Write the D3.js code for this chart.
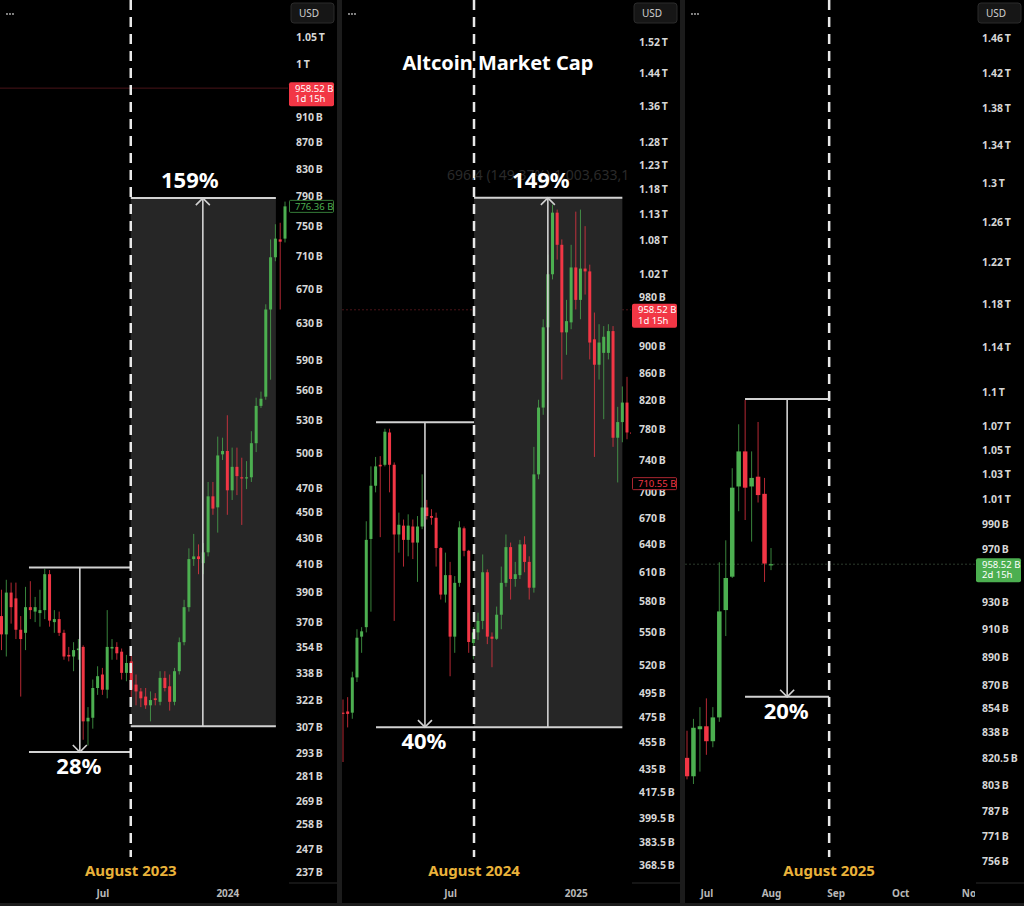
<!DOCTYPE html>
<html><head><meta charset="utf-8">
<script src="https://cdn.jsdelivr.net/npm/d3@7"></script>
<style>
html,body{margin:0;padding:0;background:#000;}
svg{display:block;}
text{font-family:"Noto Sans","Open Sans",sans-serif;}
</style></head><body>
<svg id="chart" width="1024" height="906"></svg>
<script>
// ---------------- DATA (values in billions USD) ----------------
// weekly candles [open, high, low, close]
const candles2023 = [
 [374,392,352,362],[362,399,348,390],[390,397,369,380],[386,397,359,365],[365,374,324,359],
 [363,394,352,380],[380,398,372,378],[377,387,370,380],[376,392,367,378],[378,407,372,403],
 [403,406,367,371],[370,378,363,372],[372,377,361,363],[363,365,346,348],[349,354,345,348],
 [348,357,339,352],[352,359,346,353],[354,355,300,310],[310,318,297,312],[312,334,306,329],
 [329,342,325,336],[337,341,325,328],[328,378,323,354],[353,359,346,354],[354,357,346,350],
 [351,353,334,338],[338,349,333,344],[345,349,322,328],[331,337,319,327],[327,329,318,323],
 [324,329,317,319],[319,327,310,322],[323,326,319,322],[321,339,319,335],[335,339,327,329],
 [330,337,316,321],[321,341,319,339],[339,360,337,357],[357,385,355,380],[380,422,377,414],
 [414,433,409,416],[416,425,403,414],[411,426,403,419],[419,475,416,463],[463,475,448,453],
 [454,515,434,498],[499,514,494,502],[502,535,448,468],[468,505,460,488],[488,505,464,480],
 [479,496,440,478],[478,493,469,479],[479,520,475,509],[509,552,501,544],[544,558,542,551],
 [553,652,550,646],[646,732,570,709],[709,752,704,733],[732,754,646,729],[733,783,728,776.36]
];
const candles2024 = [
 [479,490,440,478.5],[480,492,467,478],[479,514,474,509],[509,553,505,545],[546,555,531,551],
 [555,666,550,645],[646,732,570,708],[708,744,700,732],[734,745,648,732],[734,781,732,777],
 [776,781,700,734],[734,737,561,651],[651,676,631,662],[661,668,616,645],[645,674,627,661],
 [660,668,624,642],[642,672,600,660],[660,722,657,682],[682,691,668,672],[672,680,662,670],
 [670,676,616,636],[636,637,582,587],[587,631,579,607],[607,621,510,546],[546,606,531,599],
 [599,666,595,659],[658,660,627,633],[633,634,531,541],[540,555,525,550],[550,569,543,561],
 [561,629,553,610],[610,613,539,546],[546,550,518,544],[544,575,543,567],[567,616,553,599],
 [599,651,595,637],[637,642,582,603],[603,621,595,608],[607,645,603,640],[640,649,610,621],
 [621,627,582,594],[594,757,589,722],[722,821,716,810],[810,943,800,930],[930,1054,846,1019],
 [1019,1149,1010,1133],[1133,1139,1045,1072],[1072,1082,850,922],[922,975,887,940],[938,1072,927,1031],
 [1031,1135,959,975],[975,1139,943,1029],[1029,1107,984,1024],[1024,1036,880,906],[911,954,744,872],
 [872,935,850,906],[890,932,794,915],[890,935,880,924],[924,932,757,769],[769,811,712,790],
 [790,840,763,817],[817,854,767,776],[776,776,710.55,775]
];
// 3-day candles
const candles2025 = [
 [821,839,807,809],[809,847,804,841],[840,855,812,842],[842,861,823,832],[832,855,828,848],
 [848,960,845,923],[924,977,905,948],[949,1035,948,1019],[1020,1072,1000,1049],[1049,1093,993,1019],
 [1020,1049,976,1027],[1028,1074,1007,1013],[1014,1027,945,959],[958,971,954,958.52]
];

// price-scale tick values (billions)
const ticks2023 = [1050,1000,910,870,830,790,750,710,670,630,590,560,530,500,470,450,430,410,390,370,354,338,322,307,293,281,269,258,247,237];
const ticks2024 = [1520,1440,1360,1280,1230,1180,1130,1080,1020,980,900,860,820,780,740,700,670,640,610,580,550,520,495,475,455,435,417.5,399.5,383.5,368.5];
const ticks2025 = [1460,1420,1380,1340,1300,1260,1220,1180,1140,1100,1070,1050,1030,1010,990,970,930,910,890,870,854,838,820.5,803,787,771,756];

// time-scale labels (bar index -> label)
const timeIdx2023 = [21,47];     const timeLbl2023 = ["Jul","2024"];
const timeIdx2024 = [23,50];     const timeLbl2024 = ["Jul","2025"];
const timeIdx2025 = [3,13,23,33,44]; const timeLbl2025 = ["Jul","Aug","Sep","Oct","Nov"];

// reference line (bar index) and captions
const markIdx = [26.9, 28.14, 22];
const markLbl = ["August 2023","August 2024","August 2025"];

// measurement drawings: [fromIdx, toIdx, arrowIdx, startValue, endValue, label]
const dropMeasures = [
 [5.72, 26.9, 16.3, 407.9, 293.5, "28%"],
 [7.09, 28.14, 17.6, 789.7, 467.2, "40%"],
 [8.98, 22, 15.5, 1093.9, 862.1, "20%"]
];
const riseMeasures = [
 [26.9, 57.1, 41.9, 307.3, 787.9, "159%"],
 [28.14, 60.0, 44.0, 467.2, 1162.3, "149%"]
];

const lastPrice = 958.52;
const lastLabels = [["958.52 B","1d 15h"],["958.52 B","1d 15h"],["958.52 B","2d 15h"]];
const extraPrice = [776.36, 710.55, null];

// ---------------- LAYOUT ----------------
const GREEN = "#4caf50", RED = "#f23645";
const panels = [
 {data:candles2023, left:0, right:337, plotR:288, axisX:296, xr:[1.5,285], n:59, yDom:[1050,237], yRan:[37,872], ticks:ticks2023, tIdx:timeIdx2023, tLbl:timeLbl2023, bodyW:3, lastFill:RED},
 {data:candles2024, left:342, right:680, plotR:631, axisX:639, xr:[343,627], n:61, yDom:[1520,368.5], yRan:[42,865], ticks:ticks2024, tIdx:timeIdx2024, tLbl:timeLbl2024, bodyW:3, lastFill:RED},
 {data:candles2025, left:685, right:1024, plotR:975, axisX:982, xr:[687,771], n:13, yDom:[1460,756], yRan:[38,861], ticks:ticks2025, tIdx:timeIdx2025, tLbl:timeLbl2025, bodyW:4.5, lastFill:GREEN}
];

const svg = d3.select("#chart");
svg.append("rect").attr("width",1024).attr("height",906).attr("fill","#000");

const fmt = v => v >= 1000 ? (+(v/1000).toFixed(2)) + "\u2009T" : v + "\u2009B";

panels.forEach((p, k) => {
  const x = d3.scaleLinear().domain([0, p.n]).range(p.xr);
  const y = d3.scaleLog().domain(p.yDom).range(p.yRan);
  const clipId = "clip" + k;
  svg.append("clipPath").attr("id", clipId).append("rect")
     .attr("x", p.left).attr("y", 0).attr("width", p.plotR - p.left).attr("height", 906);
  const g = svg.append("g").attr("clip-path", `url(#${clipId})`);

  // last price line
  g.append("line").attr("x1", p.left).attr("x2", p.plotR)
    .attr("y1", y(lastPrice)).attr("y2", y(lastPrice))
    .attr("stroke", k === 2 ? "#2c3a2c" : "#4a1418").attr("stroke-width", 1)
    .attr("stroke-dasharray", k === 0 ? null : "2,2");

  // rise box (grey) under candles
  const rm = riseMeasures[k];
  if (rm) {
    g.append("rect").attr("x", x(rm[0])).attr("width", x(rm[1]) - x(rm[0]))
      .attr("y", y(rm[4])).attr("height", y(rm[3]) - y(rm[4])).attr("fill", "#262626");
  }

  // candles
  const cg = g.append("g");
  p.data.forEach((d, i) => {
    const [o, h, l, c] = d;
    const col = c >= o ? GREEN : RED;
    const cx = x(i);
    cg.append("line").attr("x1", cx).attr("x2", cx).attr("y1", y(h)).attr("y2", y(l))
      .attr("stroke", col).attr("stroke-width", 1).attr("opacity", 0.75);
    const top = y(Math.max(o, c)), bot = y(Math.min(o, c));
    cg.append("rect").attr("x", cx - p.bodyW / 2).attr("width", p.bodyW)
      .attr("y", top).attr("height", Math.max(1.2, bot - top)).attr("fill", col);
  });

  const LC = "#d2d2d2";
  // rise measurement lines
  if (rm) {
    [rm[3], rm[4]].forEach(v => g.append("line").attr("x1", x(rm[0])).attr("x2", x(rm[1]))
      .attr("y1", y(v)).attr("y2", y(v)).attr("stroke", LC).attr("stroke-width", 2));
    const ax = x(rm[2]), ay = y(rm[4]);
    g.append("line").attr("x1", ax).attr("x2", ax).attr("y1", y(rm[3])).attr("y2", ay)
      .attr("stroke", LC).attr("stroke-width", 1.6);
    g.append("path").attr("d", `M${ax-7},${ay+7}L${ax},${ay}L${ax+7},${ay+7}`)
      .attr("fill", "none").attr("stroke", LC).attr("stroke-width", 1.6);
  }
  // drop measurement
  const dm = dropMeasures[k];
  [dm[3], dm[4]].forEach(v => g.append("line").attr("x1", x(dm[0])).attr("x2", x(dm[1]))
    .attr("y1", y(v)).attr("y2", y(v)).attr("stroke", LC).attr("stroke-width", 2));
  {
    const ax = x(dm[2]), ay = y(dm[4]);
    g.append("line").attr("x1", ax).attr("x2", ax).attr("y1", y(dm[3])).attr("y2", ay)
      .attr("stroke", LC).attr("stroke-width", 1.6);
    g.append("path").attr("d", `M${ax-7},${ay-7}L${ax},${ay}L${ax+7},${ay-7}`)
      .attr("fill", "none").attr("stroke", LC).attr("stroke-width", 1.6);
  }

  // dashed reference line
  const mx = x(markIdx[k]);
  g.append("line").attr("x1", mx).attr("x2", mx).attr("y1", 0).attr("y2", 857)
    .attr("stroke", "#e8e8e8").attr("stroke-width", 2.5).attr("stroke-dasharray", "10,7");

  // faint info text behind 149%
  if (k === 1) {
    g.append("text").attr("x", 447).attr("y", 180).attr("fill", "#2a2a2a")
      .attr("font-size", 14).text("696.4 (149.37%) 1,003,633,1");
  }

  // percentage captions
  const pctStyle = s => s.attr("fill", "#fff").attr("font-size", 22).attr("font-weight", 700)
      .attr("text-anchor", "middle");
  g.append("text").attr("x", x(dm[2]) - 1).attr("y", y(dm[4]) + 22).call(pctStyle).text(dm[5]);
  if (rm) g.append("text").attr("x", x(rm[2]) - (k === 0 ? 13 : 7)).attr("y", y(rm[4]) - 10).call(pctStyle).text(rm[5]);

  // period caption
  g.append("text").attr("x", mx).attr("y", 876).attr("text-anchor", "middle")
    .attr("fill", "#e9b23a").attr("font-size", 15).attr("font-weight", 700).text(markLbl[k]);

  // time axis
  const xa = d3.axisBottom(x).tickValues(p.tIdx).tickFormat((d, i) => p.tLbl[i]).tickSize(0).tickPadding(0);
  const xg = g.append("g").attr("transform", "translate(0,890)").call(xa);
  xg.select(".domain").remove();
  xg.selectAll("text").attr("fill", "#b8b8b8").attr("font-size", 10).attr("font-weight", 700)
    .attr("font-family", "'Noto Sans',sans-serif");

  // price axis
  const ya = d3.axisRight(y).tickValues(p.ticks).tickFormat(fmt).tickSize(0).tickPadding(0);
  const yg = svg.append("g").attr("transform", `translate(${p.axisX},0)`).call(ya);
  yg.select(".domain").remove();
  yg.selectAll("text").attr("fill", "#d6d6d6").attr("font-size", 10.5).attr("font-weight", 700)
    .attr("font-family", "'Noto Sans',sans-serif");

  // axis bottom rule
  svg.append("line").attr("x1", p.plotR + 1).attr("x2", p.right).attr("y1", 883).attr("y2", 883)
    .attr("stroke", "#2a2a2a").attr("stroke-width", 1);

  // USD button
  svg.append("rect").attr("x", p.plotR + 3).attr("y", 3).attr("width", 43).attr("height", 20).attr("rx", 3)
    .attr("fill", "#161616").attr("stroke", "#2b2b2b");
  svg.append("text").attr("x", p.plotR + 11).attr("y", 17).attr("fill", "#d0d0d0").attr("font-size", 10)
    .text("USD");
  // menu dots
  [0, 3, 6].forEach(dx => svg.append("circle").attr("cx", p.left + 7 + dx).attr("cy", 14).attr("r", 0.9).attr("fill", "#bbb"));

  // last price label
  const ly = y(lastPrice);
  svg.append("rect").attr("x", p.plotR + 1).attr("y", ly - 6).attr("width", 45).attr("height", 24).attr("rx", 2)
    .attr("fill", p.lastFill);
  svg.append("text").attr("x", p.plotR + 7).attr("y", ly + 3.5).attr("fill", "#fff").attr("font-size", 9.5)
    .text(lastLabels[k][0]);
  svg.append("text").attr("x", p.plotR + 7).attr("y", ly + 14).attr("fill", "#fff").attr("font-size", 9.5)
    .text(lastLabels[k][1]);

  // secondary price label
  if (extraPrice[k] !== null) {
    const ey = y(extraPrice[k]);
    const ec = k === 0 ? GREEN : RED;
    svg.append("rect").attr("x", p.plotR + 1.5).attr("y", ey - 6).attr("width", 44).attr("height", 12).attr("rx", 1)
      .attr("fill", "#000").attr("stroke", ec).attr("stroke-opacity", 0.7);
    svg.append("text").attr("x", p.plotR + 7).attr("y", ey + 3.5).attr("fill", ec).attr("font-size", 9.5)
      .text(fmt(extraPrice[k]).replace("\u2009B", " B"));
  }
});

// title
svg.append("text").attr("x", 498).attr("y", 70).attr("text-anchor", "middle").attr("fill", "#fff")
  .attr("font-size", 20).attr("font-weight", 700).text("Altcoin Market Cap");

// panel separators and frame
[[337, 5], [680, 5]].forEach(([sx, w]) => svg.append("rect").attr("x", sx).attr("y", 0).attr("width", w)
  .attr("height", 906).attr("fill", "#1c1c1c"));
svg.append("rect").attr("x", 0).attr("y", 903).attr("width", 1024).attr("height", 3).attr("fill", "#1c1c1c");
</script>
</body></html>
